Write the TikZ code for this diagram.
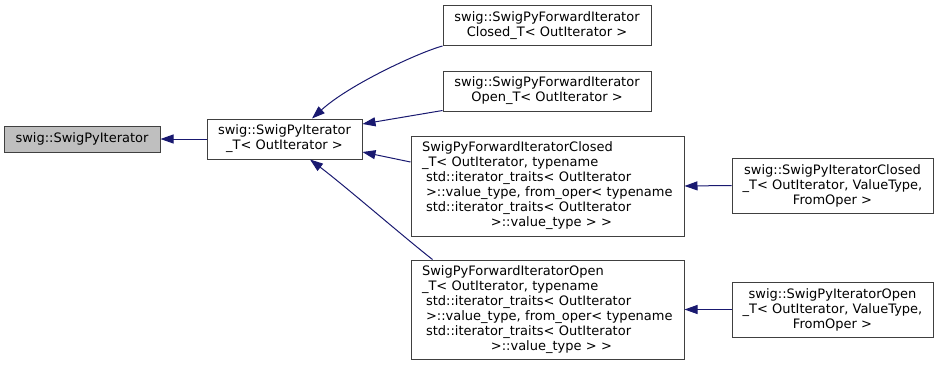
\documentclass[tikz,border=0pt]{standalone}
\usepackage{fontspec}
\setmainfont{DejaVu Sans}
\usetikzlibrary{arrows.meta}
\definecolor{edgeblue}{HTML}{191970}
\definecolor{boxline}{HTML}{404040}
\definecolor{boxfill}{HTML}{BFBFBF}
\tikzset{
  cls/.style={draw=boxline, line width=1pt, fill=white, align=center,
    inner sep=0pt, font=\fontsize{13}{15}\selectfont},
  wide/.style={cls, align=left, text width=251pt, inner xsep=11pt},
  inherit/.style={draw=edgeblue, line width=1pt,
    -{Triangle[length=13pt,width=9pt]}},
}
\begin{document}
\begin{tikzpicture}[x=1pt, y=-1pt]
  \useasboundingbox (0,0) rectangle (940,365);

  % base class
  \node[cls, fill=boxfill, minimum width=156pt, minimum height=26pt]
    (base) at (82,139) {swig::SwigPyIterator};

  % direct subclass
  \node[cls, minimum width=155pt, minimum height=40pt]
    (iterT) at (284.5,139) {swig::SwigPyIterator\\\_T< OutIterator >};

  % forward iterators
  \node[cls, minimum width=208pt, minimum height=40pt]
    (fwdClosed) at (547,25.5) {swig::SwigPyForwardIterator\\Closed\_T< OutIterator >};
  \node[cls, minimum width=208pt, minimum height=40pt]
    (fwdOpen) at (547,91) {swig::SwigPyForwardIterator\\Open\_T< OutIterator >};

  \node[wide, minimum height=100pt] (fwdClosedTr) at (547.5,186)
    {SwigPyForwardIteratorClosed\\
     \_T< OutIterator, typename\\
     \hspace*{4pt}std::iterator\_traits< OutIterator\\
     \hspace*{4pt}>::value\_type, from\_oper< typename\\
     \hspace*{4pt}std::iterator\_traits< OutIterator\\
     \makebox[251pt][c]{\hspace*{8pt}>::value\_type > >}};
  \node[wide, minimum height=99pt] (fwdOpenTr) at (547.5,309.5)
    {SwigPyForwardIteratorOpen\\
     \_T< OutIterator, typename\\
     \hspace*{4pt}std::iterator\_traits< OutIterator\\
     \hspace*{4pt}>::value\_type, from\_oper< typename\\
     \hspace*{4pt}std::iterator\_traits< OutIterator\\
     \makebox[251pt][c]{\hspace*{8pt}>::value\_type > >}};

  % leaf classes
  \node[cls, minimum width=201pt, minimum height=55pt]
    (itClosed) at (832.5,185.5) {swig::SwigPyIteratorClosed\\\_T< OutIterator, ValueType,\\FromOper >};
  \node[cls, minimum width=201pt, minimum height=55pt]
    (itOpen) at (832.5,309.5) {swig::SwigPyIteratorOpen\\\_T< OutIterator, ValueType,\\FromOper >};

  % inheritance arrows (pointing at the base class)
  \draw[inherit] (iterT.west) -- (base.east);
  \draw[inherit] (fwdClosed.south west)
    .. controls (420,52) and (350,84) .. ([xshift=27.5pt]iterT.north);
  \draw[inherit] ([yshift=1pt]fwdOpen.south west) -- ([yshift=15pt]iterT.east);
  \draw[inherit] ([yshift=24pt]fwdClosedTr.west) -- ([yshift=-13pt]iterT.east);
  \draw[inherit] ([xshift=22pt]fwdOpenTr.north west)
    .. controls (405,238) and (345,186) .. ([xshift=25.5pt]iterT.south);
  \draw[inherit] (itClosed.west) -- (fwdClosedTr.east);
  \draw[inherit] (itOpen.west) -- (fwdOpenTr.east);
\end{tikzpicture}
\end{document}
